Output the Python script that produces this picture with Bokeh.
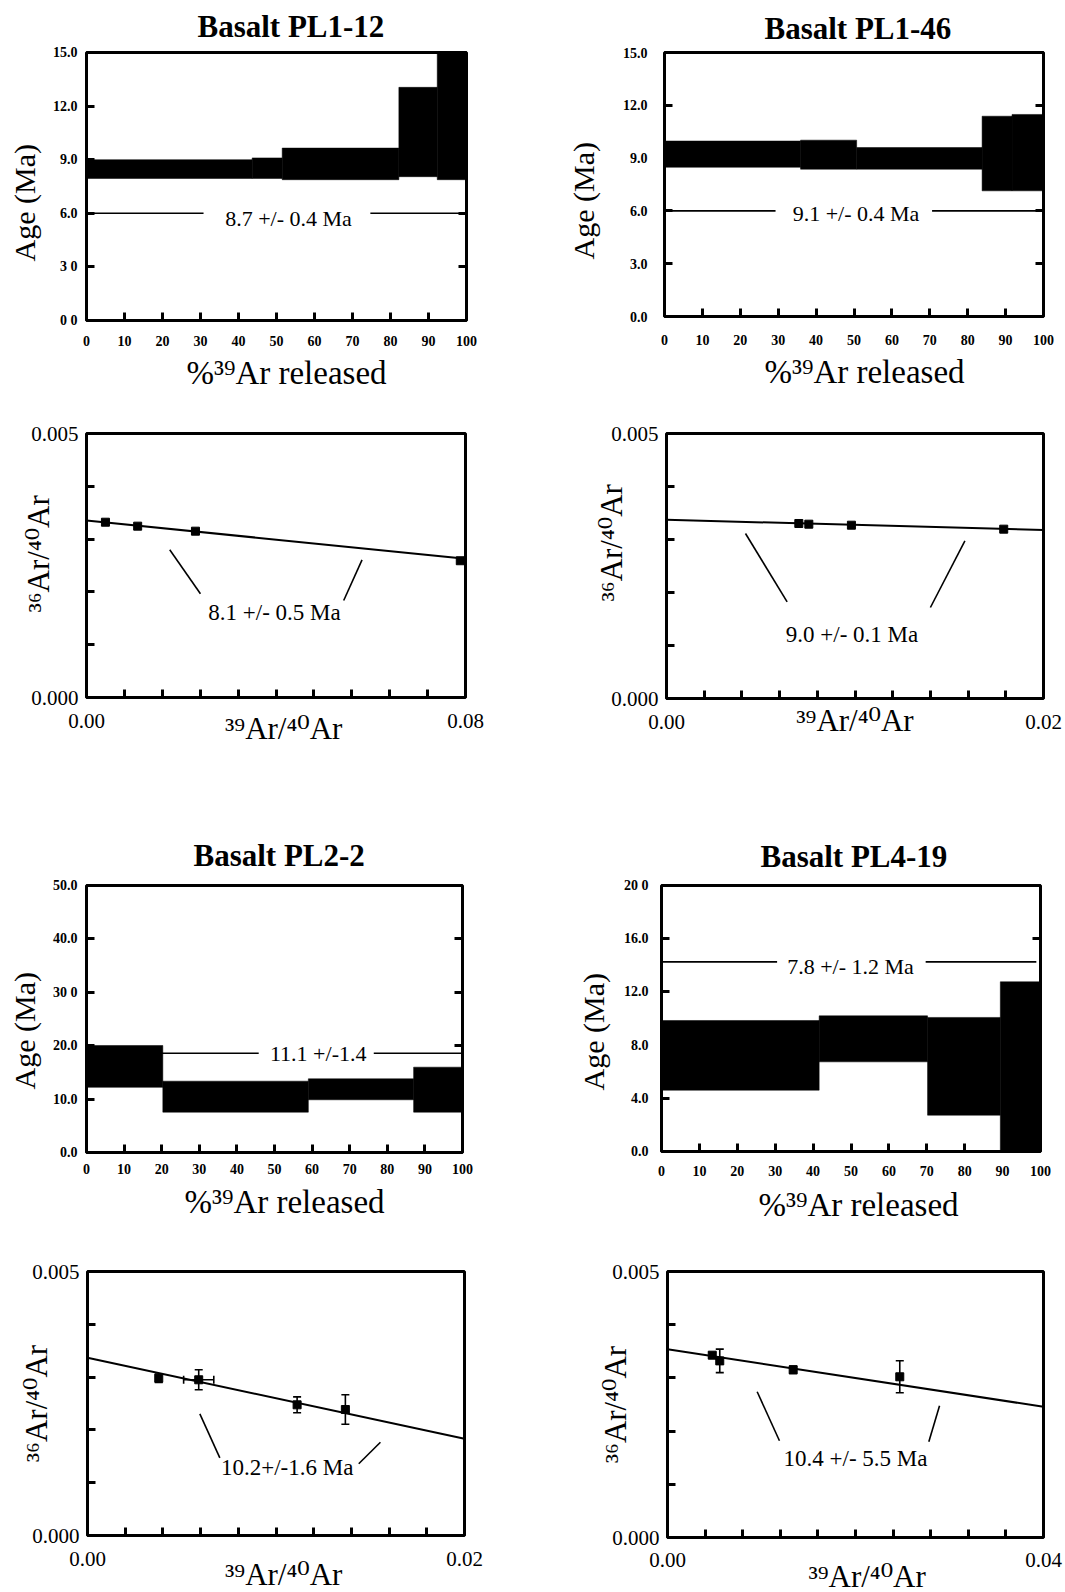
import math
from bokeh.plotting import figure
from bokeh.models import (Range1d, LinearAxis, FixedTicker, PrintfTickFormatter,
                          CustomJSTickFormatter, Label, ColumnDataSource, Whisker,
                          TeeHead, Title)
from bokeh.layouts import column, row
from bokeh.embed import file_html
from bokeh.resources import INLINE

SERIF = "Liberation Serif"
ISO_FONT = "Liberation Serif, DejaVu Serif"

# ======================= DATA =======================
# ---- age spectra: step edges (cumulative %39Ar), upper / lower age of each step (Ma)
pl1_12_steps = [0, 43.6, 51.5, 82.2, 92.3, 100]
pl1_12_age_hi = [9.00, 9.10, 9.65, 13.05, 15.60]
pl1_12_age_lo = [7.95, 7.95, 7.88, 8.05, 7.88]
pl1_12_plateau_text = "8.7 +/- 0.4 Ma"
pl1_12_plateau_y = 6.0
pl1_12_plateau_x = [[0, 30.8], [74.7, 100]]
pl1_12_yticks = [0, 3, 6, 9, 12, 15]
pl1_12_ylabels = {0: "0 0", 3: "3 0"}

pl1_46_steps = [0, 35.9, 50.7, 83.8, 91.7, 100]
pl1_46_age_hi = [9.97, 10.02, 9.60, 11.38, 11.48]
pl1_46_age_lo = [8.48, 8.37, 8.37, 7.14, 7.14]
pl1_46_plateau_text = "9.1 +/- 0.4 Ma"
pl1_46_plateau_y = 6.0
pl1_46_plateau_x = [[0, 29.3], [70.6, 100]]
pl1_46_yticks = [0, 3, 6, 9, 12, 15]
pl1_46_ylabels = {}

pl2_2_steps = [0, 20.3, 59.0, 87.0, 100]
pl2_2_age_hi = [20.04, 13.36, 13.80, 15.98]
pl2_2_age_lo = [12.20, 7.55, 9.87, 7.55]
pl2_2_plateau_text = "11.1 +/-1.4"
pl2_2_plateau_y = 18.6
pl2_2_plateau_x = [[0, 45.8], [76.4, 100]]
pl2_2_yticks = [0, 10, 20, 30, 40, 50]
pl2_2_ylabels = {30: "30 0"}

pl4_19_steps = [0, 41.6, 70.2, 89.4, 100]
pl4_19_age_hi = [9.85, 10.20, 10.08, 12.76]
pl4_19_age_lo = [4.61, 6.74, 2.73, -0.77]
pl4_19_plateau_text = "7.8 +/- 1.2 Ma"
pl4_19_plateau_y = 14.26
pl4_19_plateau_x = [[0, 30.5], [69.7, 98.9]]
pl4_19_yticks = [0, 4, 8, 12, 16, 20]
pl4_19_ylabels = {20: "20 0"}

spectrum_xticks = [0, 10, 20, 30, 40, 50, 60, 70, 80, 90, 100]

# ---- isochrons: 39Ar/40Ar, 36Ar/40Ar, errors, fit line ends, leader lines
iso_pl1_12_x = [0.0040, 0.0108, 0.0230, 0.0789]
iso_pl1_12_y = [0.00332, 0.003245, 0.00315, 0.00259]
iso_pl1_12_fit_x = [0.0, 0.08]
iso_pl1_12_fit_y = [0.00335, 0.00263]
iso_pl1_12_text = "8.1 +/- 0.5 Ma"
iso_pl1_12_leaders = [[(0.01757, 0.002797), (0.02405, 0.001964)],
                      [(0.05816, 0.002608), (0.05429, 0.001837)]]
iso_pl1_12_xminor = [0.008, 0.016, 0.024, 0.032, 0.040, 0.048, 0.056, 0.064, 0.072]

iso_pl1_46_x = [0.00702, 0.00755, 0.00981, 0.01789]
iso_pl1_46_y = [0.003302, 0.003289, 0.00327, 0.003195]
iso_pl1_46_fit_x = [0.0, 0.02]
iso_pl1_46_fit_y = [0.003372, 0.003180]
iso_pl1_46_text = "9.0 +/- 0.1 Ma"
iso_pl1_46_leaders = [[(0.00419, 0.003113), (0.0064, 0.001824)],
                      [(0.01583, 0.002975), (0.0140, 0.001717)]]
iso_pl1_46_xminor = [0.002, 0.004, 0.006, 0.008, 0.010, 0.012, 0.014, 0.016, 0.018]

iso_pl2_2_x = [0.00378, 0.0059, 0.01112, 0.01368]
iso_pl2_2_y = [0.002979, 0.002949, 0.002475, 0.002386]
iso_pl2_2_yerr = [0.00008, 0.00019, 0.00015, 0.00028]
iso_pl2_2_xerr = [0.0, 0.0008, 0.0, 0.0]
iso_pl2_2_fit_x = [0.0, 0.02]
iso_pl2_2_fit_y = [0.003365, 0.001831]
iso_pl2_2_text = "10.2+/-1.6 Ma"
iso_pl2_2_leaders = [[(0.00596, 0.002305), (0.00702, 0.001471)],
                     [(0.01554, 0.001767), (0.01439, 0.001358)]]
iso_pl2_2_xminor = [0.002, 0.004, 0.006, 0.008, 0.010, 0.012, 0.014, 0.016, 0.018]

iso_pl4_19_x = [0.00476, 0.00556, 0.01337, 0.02471]
iso_pl4_19_y = [0.003427, 0.00332, 0.003152, 0.003021]
iso_pl4_19_yerr = [0.00005, 0.00022, 0.00007, 0.00030]
iso_pl4_19_xerr = [0.0, 0.0, 0.0, 0.0]
iso_pl4_19_fit_x = [0.0, 0.04]
iso_pl4_19_fit_y = [0.00354, 0.002457]
iso_pl4_19_text = "10.4 +/- 5.5 Ma"
iso_pl4_19_leaders = [[(0.00954, 0.002739), (0.01191, 0.001818)],
                      [(0.02894, 0.002475), (0.0278, 0.001799)]]
iso_pl4_19_xminor = [0.004, 0.008, 0.012, 0.016, 0.020, 0.024, 0.028, 0.032, 0.036]

iso_yticks = [0, 0.005]
iso_yminor = [0.001, 0.002, 0.003, 0.004]

# ======================= LAYOUT / STYLE =======================
X_LABEL_SPEC = "%\u00b3\u2079Ar released"
Y_LABEL_SPEC = "Age (Ma)"
X_LABEL_ISO = "\u00b3\u2079Ar/\u2074\u2070Ar"
Y_LABEL_ISO = "\u00b3\u2076Ar/\u2074\u2070Ar"
NBSP = "\u00a0"


def at(spec, dx, dy):
    """pixel offset from the frame's top-left corner -> data coordinates"""
    x = spec["x0"] + dx / spec["fw"] * (spec["x1"] - spec["x0"])
    y = spec["y1"] - dy / spec["fh"] * (spec["y1"] - spec["y0"])
    return x, y


def base_fig(spec):
    p = figure(frame_width=spec["fw"], frame_height=spec["fh"],
               x_range=Range1d(spec["x0"], spec["x1"]),
               y_range=Range1d(spec["y0"], spec["y1"]),
               min_border_left=spec["L"], min_border_right=spec["R"],
               min_border_top=spec["T"], min_border_bottom=spec["B"],
               output_backend="svg", toolbar_location=None)
    p.xgrid.visible = False
    p.ygrid.visible = False
    p.outline_line_color = "black"
    p.outline_line_width = 3
    p.background_fill_color = "white"
    p.border_fill_color = "white"
    for ax in (p.xaxis[0], p.yaxis[0]):
        ax.axis_line_color = None
        ax.major_tick_in = 8
        ax.major_tick_out = 0
        ax.major_tick_line_width = 3
        ax.minor_tick_in = 8
        ax.minor_tick_out = 0
        ax.minor_tick_line_width = 3
        ax.major_label_text_font = SERIF
        ax.major_label_text_color = "black"
    return p


def add_label(p, spec, dx, dy, text, size):
    x, y = at(spec, dx, dy)
    p.add_layout(Label(x=x, y=y, text=text, text_font=SERIF,
                       text_font_size=size, text_align="center",
                       text_baseline="middle", text_color="black"))


def side_title(p, text, side, size, offset, standoff, valign="bottom", bold=False):
    p.add_layout(Title(text=text, align="left", offset=offset, standoff=standoff,
                       vertical_align=valign,
                       text_font=SERIF, text_font_size=size,
                       text_font_style="bold" if bold else "normal",
                       text_color="black"), side)


def spectrum(spec, steps, hi, lo, plat_y, plat_x, plat_text, yticks, ylabels,
             title, pos):
    p = base_fig(spec)
    for seg in plat_x:
        p.line(x=seg, y=[plat_y, plat_y], line_color="black", line_width=1.6)
    src = ColumnDataSource(dict(left=steps[:-1], right=steps[1:], top=hi, bottom=lo))
    p.quad(left="left", right="right", top="top", bottom="bottom", source=src,
           fill_color="black", line_color="black", line_width=0.5)
    p.xaxis[0].ticker = FixedTicker(ticks=spectrum_xticks)
    p.yaxis[0].ticker = FixedTicker(ticks=yticks)
    p.xaxis[0].formatter = PrintfTickFormatter(format="%d")
    p.yaxis[0].formatter = PrintfTickFormatter(format="%.1f")
    p.yaxis[0].major_label_overrides = ylabels
    for ax in (p.xaxis[0], p.yaxis[0]):
        ax.major_label_text_font_size = "14px"
        ax.major_label_text_font_style = "bold"
    p.xaxis[0].major_label_standoff = spec["xs"]
    p.yaxis[0].major_label_standoff = spec["ys"]
    rax = LinearAxis(ticker=FixedTicker(ticks=yticks),
                     formatter=CustomJSTickFormatter(code="return ''"),
                     axis_line_color=None, major_tick_in=8, major_tick_out=0,
                     major_tick_line_width=3, minor_tick_line_color=None,
                     major_label_standoff=0, major_label_text_font_size="1px")
    p.add_layout(rax, "right")
    # title above the frame
    p.title.text = title
    p.title.text_font = SERIF
    p.title.text_font_size = "31px"
    p.title.text_font_style = "bold"
    p.title.text_color = "black"
    p.title.align = "left"
    p.title.offset = pos["title"][0]
    p.title.standoff = pos["title"][1]
    p.title.vertical_align = pos["title"][2]
    side_title(p, X_LABEL_SPEC, "below", "33px", pos["xlab"][0], pos["xlab"][1])
    side_title(p, Y_LABEL_SPEC, "left", "30px", pos["ylab"][0], pos["ylab"][1],
               valign=pos["ylab"][2])
    add_label(p, spec, pos["plat"][0], pos["plat"][1], plat_text, "22px")
    return p


def isochron(spec, xs, ys, fit_x, fit_y, text, leaders, xminor, pos,
             yerr=None, xerr=None):
    p = base_fig(spec)
    p.line(x=fit_x, y=fit_y, line_color="black", line_width=2)
    for (a, b) in leaders:
        p.line(x=[a[0], b[0]], y=[a[1], b[1]], line_color="black", line_width=1.6)
    if yerr is not None:
        esrc = ColumnDataSource(dict(x=xs, y=ys,
                                     yu=[y + e for y, e in zip(ys, yerr)],
                                     yl=[y - e for y, e in zip(ys, yerr)]))
        p.add_layout(Whisker(base="x", upper="yu", lower="yl", source=esrc,
                             dimension="height", line_width=1.6,
                             upper_head=TeeHead(size=8, line_width=1.6),
                             lower_head=TeeHead(size=8, line_width=1.6)))
    if xerr is not None and any(e > 0 for e in xerr):
        sel = [i for i, e in enumerate(xerr) if e > 0]
        xsrc = ColumnDataSource(dict(y=[ys[i] for i in sel],
                                     xu=[xs[i] + xerr[i] for i in sel],
                                     xl=[xs[i] - xerr[i] for i in sel]))
        p.add_layout(Whisker(base="y", upper="xu", lower="xl", source=xsrc,
                             dimension="width", line_width=1.6,
                             upper_head=TeeHead(size=8, line_width=1.6),
                             lower_head=TeeHead(size=8, line_width=1.6)))
    p.scatter(x=xs, y=ys, marker="square", size=8, fill_color="black",
              line_color="black")
    p.xaxis[0].ticker = FixedTicker(ticks=[0, spec["x1"]], minor_ticks=xminor)
    p.yaxis[0].ticker = FixedTicker(ticks=iso_yticks, minor_ticks=iso_yminor)
    p.xaxis[0].formatter = PrintfTickFormatter(format="%.2f")
    p.yaxis[0].formatter = PrintfTickFormatter(format="%.3f")
    for ax in (p.xaxis[0], p.yaxis[0]):
        ax.major_label_text_font_size = "21px"
        ax.axis_label_text_font = ISO_FONT
        ax.axis_label_text_font_size = "31px"
        ax.axis_label_text_font_style = "normal"
        ax.axis_label_text_color = "black"
    p.xaxis[0].major_label_standoff = spec["xs"]
    p.yaxis[0].major_label_standoff = spec["ys"]
    # leading no-break spaces nudge the centred axis titles along their axis
    p.xaxis[0].axis_label = NBSP * pos["xpad"] + X_LABEL_ISO
    p.yaxis[0].axis_label = NBSP * pos["ypad"] + Y_LABEL_ISO
    p.xaxis[0].axis_label_standoff = pos["xlab"]
    p.yaxis[0].axis_label_standoff = pos["ylab"]
    add_label(p, spec, pos["note"][0], pos["note"][1], text, "23px")
    return p


# frame geometry (page pixels): borders chosen so that each frame sits where the
# reference draws it
s1 = dict(x0=0, x1=100, y0=0, y1=15, fw=380, fh=268, L=86, R=30, T=52, B=80, xs=15, ys=9)
s2 = dict(x0=0, x1=100, y0=0, y1=15, fw=379, fh=264, L=168, R=22, T=49, B=87, xs=18, ys=17)
s3 = dict(x0=0, x1=0.08, y0=0, y1=0.005, fw=379, fh=264, L=86, R=30, T=33, B=123, xs=16, ys=8)
s4 = dict(x0=0, x1=0.02, y0=0, y1=0.005, fw=377, fh=265, L=171, R=22, T=31, B=124, xs=16, ys=8)
s5 = dict(x0=0, x1=100, y0=0, y1=50, fw=376, fh=267, L=86, R=30, T=65, B=88, xs=11, ys=9)
s6 = dict(x0=0, x1=100, y0=0, y1=20, fw=379, fh=266, L=169, R=25, T=62, B=92, xs=14, ys=13)
s7 = dict(x0=0, x1=0.02, y0=0, y1=0.005, fw=377, fh=264, L=87, R=30, T=31, B=57, xs=16, ys=8)
s8 = dict(x0=0, x1=0.04, y0=0, y1=0.005, fw=376, fh=266, L=173, R=22, T=29, B=57, xs=15, ys=8)

p1 = spectrum(s1, pl1_12_steps, pl1_12_age_hi, pl1_12_age_lo, pl1_12_plateau_y,
              pl1_12_plateau_x, pl1_12_plateau_text, pl1_12_yticks, pl1_12_ylabels,
              "Basalt PL1-12",
              dict(title=(111, 13, "top"), xlab=(100, 8), ylab=(59, 14, "top"),
                   plat=(202, 166)))
p2 = spectrum(s2, pl1_46_steps, pl1_46_age_hi, pl1_46_age_lo, pl1_46_plateau_y,
              pl1_46_plateau_x, pl1_46_plateau_text, pl1_46_yticks, pl1_46_ylabels,
              "Basalt PL1-46",
              dict(title=(100, 10, "top"), xlab=(100, 9), ylab=(57, 39, "bottom"),
                   plat=(191.5, 161)))
p3 = isochron(s3, iso_pl1_12_x, iso_pl1_12_y, iso_pl1_12_fit_x, iso_pl1_12_fit_y,
              iso_pl1_12_text, iso_pl1_12_leaders, iso_pl1_12_xminor,
              dict(ylab=-28, xlab=-20, ypad=3, xpad=2, note=(188, 179)))
p4 = isochron(s4, iso_pl1_46_x, iso_pl1_46_y, iso_pl1_46_fit_x, iso_pl1_46_fit_y,
              iso_pl1_46_text, iso_pl1_46_leaders, iso_pl1_46_xminor,
              dict(ylab=-21, xlab=-29, ypad=6, xpad=0, note=(185.5, 200.7)))
p5 = spectrum(s5, pl2_2_steps, pl2_2_age_hi, pl2_2_age_lo, pl2_2_plateau_y,
              pl2_2_plateau_x, pl2_2_plateau_text, pl2_2_yticks, pl2_2_ylabels,
              "Basalt PL2-2",
              dict(title=(107, 26, "bottom"), xlab=(98, 10), ylab=(63, 14, "top"),
                   plat=(231.7, 168.3)))
p6 = spectrum(s6, pl4_19_steps, pl4_19_age_hi, pl4_19_age_lo, pl4_19_plateau_y,
              pl4_19_plateau_x, pl4_19_plateau_text, pl4_19_yticks, pl4_19_ylabels,
              "Basalt PL4-19",
              dict(title=(99, 23, "bottom"), xlab=(97, 13), ylab=(61, 21, "bottom"),
                   plat=(189, 80.5)))
p7 = isochron(s7, iso_pl2_2_x, iso_pl2_2_y, iso_pl2_2_fit_x, iso_pl2_2_fit_y,
              iso_pl2_2_text, iso_pl2_2_leaders, iso_pl2_2_xminor,
              dict(ylab=-25, xlab=-12, ypad=0, xpad=2, note=(199.7, 195.7)),
              yerr=iso_pl2_2_yerr, xerr=iso_pl2_2_xerr)
p8 = isochron(s8, iso_pl4_19_x, iso_pl4_19_y, iso_pl4_19_fit_x, iso_pl4_19_fit_y,
              iso_pl4_19_text, iso_pl4_19_leaders, iso_pl4_19_xminor,
              dict(ylab=-24, xlab=-11, ypad=0, xpad=3, note=(188, 187)),
              yerr=iso_pl4_19_yerr, xerr=iso_pl4_19_xerr)

layout = column(row(p1, p2), row(p3, p4), row(p5, p6), row(p7, p8))

with open("out.html", "w") as f:
    f.write(file_html(layout, INLINE, "Ar-Ar age spectra and isochrons"))
